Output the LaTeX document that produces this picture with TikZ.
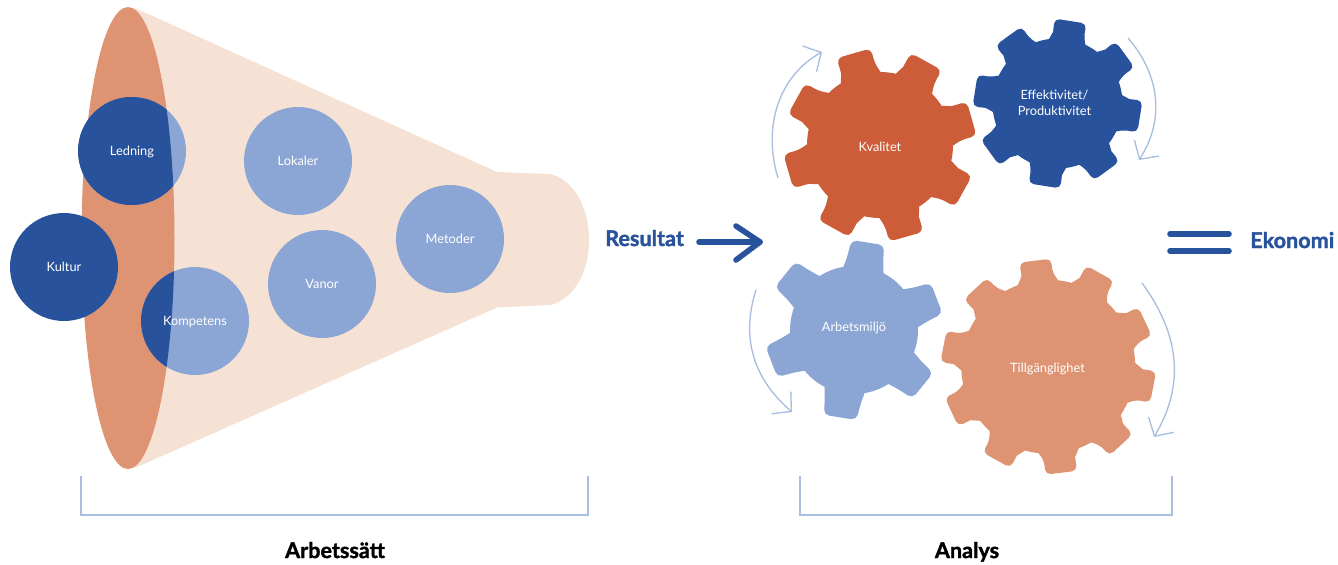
\documentclass[tikz,border=0pt]{standalone}
\usepackage{fontspec}
\setmainfont{Lato}
\newfontfamily\headfont[BoldFeatures={FakeBold=1.6}]{Lato}
\usetikzlibrary{arrows.meta}
\definecolor{navy}{HTML}{28529B}
\definecolor{sky}{HTML}{8BA6D4}
\definecolor{salmon}{HTML}{DE9472}
\definecolor{peach}{HTML}{F6E2D5}
\definecolor{rust}{HTML}{CD5C38}
\definecolor{thin}{HTML}{A9BDE0}
\tikzset{
  bubble/.style={circle,minimum size=81pt,inner sep=0pt,text=white,font=\fontsize{9.6}{12}\selectfont},
  bubbletext/.style={text=white,font=\fontsize{9.6}{12}\selectfont,align=center,inner sep=0pt},
  bracketline/.style={draw=thin,line width=1.1pt},
  spin/.style={draw=thin,line width=1pt,-{Straight Barb[length=10pt,width=22pt,line width=1pt]}},
  heading/.style={font=\headfont\fontsize{16.2}{19}\selectfont\bfseries,inner sep=0pt},
  thick line/.style={draw=navy,line width=4.2pt,line cap=round,line join=round},
}
% #1 cx, #2 cy, #3 root R, #4 tip R, #5 teeth, #6 phase, #7 half root angle, #8 half tip angle, #9 colour
\newcommand{\cogwheel}[9]{%
  \pgfmathsetmacro{\stepang}{360/#5}%
  \fill[#9] ({#1+#3*cos(#6-#7-3)},{#2+#3*sin(#6-#7-3)})
    \foreach \k [evaluate=\k as \a using #6+(\k)*\stepang] in {0,...,\numexpr#5-1\relax} {
      [sharp corners] -- ({#1+#3*cos(\a-#7-3)},{#2+#3*sin(\a-#7-3)})
      -- ({#1+(#3+0.35*(#4-#3))*cos(\a-#7+1)},{#2+(#3+0.35*(#4-#3))*sin(\a-#7+1)})
      [rounded corners=4pt] -- ({#1+#4*cos(\a-#8)},{#2+#4*sin(\a-#8)})
      -- ({#1+#4*cos(\a+#8)},{#2+#4*sin(\a+#8)})
      -- ({#1+(#3+0.35*(#4-#3))*cos(\a+#7-1)},{#2+(#3+0.35*(#4-#3))*sin(\a+#7-1)})
      [sharp corners] -- ({#1+#3*cos(\a+#7+3)},{#2+#3*sin(\a+#7+3)})
      arc[start angle=\a+#7+3,end angle=\a+\stepang-#7-3,radius=#3]
    } -- cycle;%
}
\begin{document}
\begin{tikzpicture}[x=0.75pt,y=-0.75pt]
\useasboundingbox (0,0) rectangle (1338,564);
% funnel
\fill[peach] (135,8) -- (497,172) -- (550,174)
  .. controls (572,179) and (589,205) .. (589,240)
  .. controls (589,275) and (572,300) .. (550,305)
  -- (497,307.5) -- (135,468) -- cycle;
\fill[salmon] (128,238) ellipse [x radius=46.5,y radius=231];
% bubbles
\node[bubble,fill=sky,yshift=-0.75pt] (lokaler) at (298,160) {Lokaler};
\node[bubble,fill=sky,yshift=-0.75pt] (vanor) at (322,283) {Vanor};
\node[bubble,fill=sky,yshift=-0.75pt] (metoder) at (450,238) {Metoder};
\fill[sky] (132,151) circle [radius=54];
\fill[sky] (195,321) circle [radius=54];
\begin{scope}
  \clip (128,238) ellipse [x radius=46.5,y radius=231];
  \fill[navy] (132,151) circle [radius=54];
  \fill[navy] (195,321) circle [radius=54];
\end{scope}
\begin{scope}
  \clip (0,0) rectangle (128,564);
  \fill[navy] (132,151) circle [radius=54];
  \fill[navy] (195,321) circle [radius=54];
\end{scope}
\node[bubble,yshift=-0.75pt] (ledning) at (132,151) {Ledning};
\node[bubble,yshift=-0.75pt] (kompetens) at (195,321) {Kompetens};
\node[bubble,fill=navy] (kultur) at (64,267) {Kultur};
% gears
\cogwheel{880}{145}{73}{97}{8}{-16}{13.5}{10.5}{rust}
\cogwheel{1057.5}{103.5}{65}{85}{8}{9}{13.5}{11}{navy}
\cogwheel{854}{330}{64}{90}{6}{-21}{15.5}{10.5}{sky}
\cogwheel{1048.3}{366.7}{87}{108}{10}{-25}{10.5}{8.5}{salmon}
\node[bubbletext] (kvalitet) at (880,147) {Kvalitet};
\node[bubbletext] (effekt) at (1054.5,103) {Effektivitet/\\Produktivitet};
\node[bubbletext] (arbetsmiljo) at (854,328) {Arbetsmiljö};
\node[bubbletext] (tillg) at (1047.5,369) {Tillgänglighet};
% rotation arrows
\coordinate (a1) at (778,178); \coordinate (a2) at (822,52);
\coordinate (b1) at (1128,38); \coordinate (b2) at (1139,160);
\coordinate (c1) at (756,290); \coordinate (c2) at (792,412);
\coordinate (d1) at (1142,283); \coordinate (d2) at (1154,437);
\draw[spin] (a1) .. controls (762,125) and (780,75) .. (a2);
\draw[spin] (b1) .. controls (1160,75) and (1165,120) .. (b2);
\draw[spin] (c1) .. controls (740,340) and (755,380) .. (c2);
\draw[spin] (d1) .. controls (1180,335) and (1185,385) .. (d2);
% result arrow and equals
\node[heading,text=navy,anchor=base west] (resultat) at (605,246) {Resultat};
\node[heading,text=navy,anchor=base west] (ekonomi) at (1250,248) {Ekonomi};
\coordinate (r1) at (699,242); \coordinate (r2) at (760,242);
\coordinate (r3) at (736,226); \coordinate (r4) at (736,260);
\draw[thick line] (r1) -- (r2);
\draw[thick line] (r3) -- (r2) -- (r4);
\coordinate (e1) at (1170,234); \coordinate (e2) at (1229,234);
\coordinate (e3) at (1170,251); \coordinate (e4) at (1229,251);
\draw[thick line] (e1) -- (e2);
\draw[thick line] (e3) -- (e4);
% brackets
\coordinate (l1) at (81,476); \coordinate (l2) at (81,515);
\coordinate (l3) at (588,515); \coordinate (l4) at (588,476);
\coordinate (s1) at (800,476); \coordinate (s2) at (800,515);
\coordinate (s3) at (1172,515); \coordinate (s4) at (1172,476);
\draw[bracketline] (l1) -- (l2) -- (l3) -- (l4);
\draw[bracketline] (s1) -- (s2) -- (s3) -- (s4);
\node[heading,anchor=base] (arbetssatt) at (335,558) {Arbetssätt};
\node[heading,anchor=base] (analys) at (967,558) {Analys};
\end{tikzpicture}
\end{document}
